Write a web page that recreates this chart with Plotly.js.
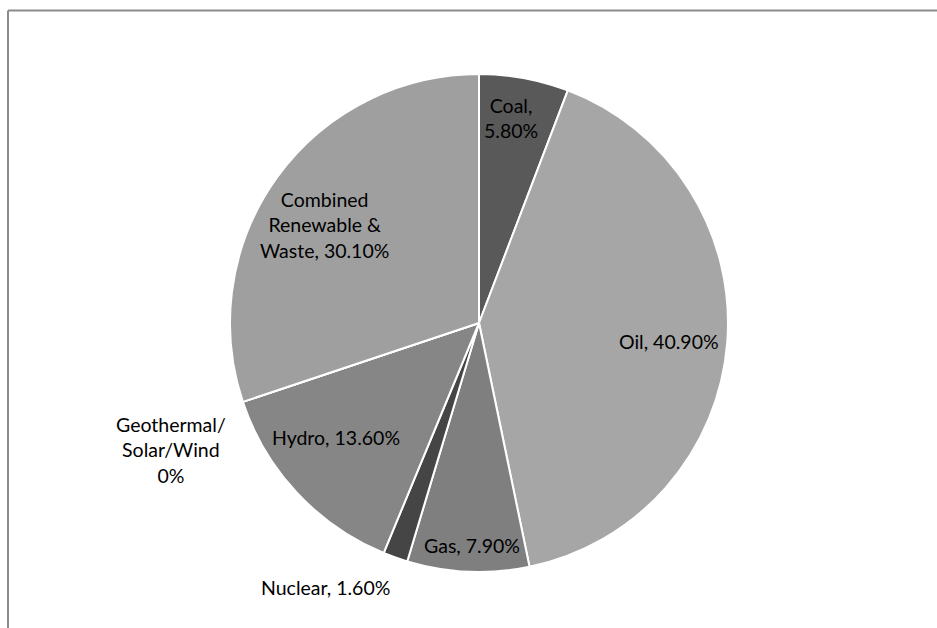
<!DOCTYPE html>
<html>
<head>
<meta charset="utf-8">
<script src="https://cdn.plot.ly/plotly-3.0.1.min.js"></script>
<style>html,body{margin:0;padding:0;background:#fff;}#chart{width:937px;height:628px;}</style>
</head>
<body>
<div id="chart"></div>
<script>
// Data
var categories = ["Coal", "Oil", "Gas", "Nuclear", "Hydro", "Geothermal/Solar/Wind", "Combined Renewable & Waste"];
var values = [5.8, 40.9, 7.9, 1.6, 13.6, 0, 30.1];
var labelTexts = ["Coal,<br>5.80%", "Oil, 40.90%", "Gas, 7.90%", "Nuclear, 1.60%", "Hydro, 13.60%", "Geothermal/<br>Solar/Wind<br>0%", "Combined<br>Renewable &<br>Waste, 30.10%"];

// Styles / positions (pixel positions of label centres)
var sliceColors = ["#595959", "#a6a6a6", "#7f7f7f", "#454545", "#868686", "#bfbfbf", "#9f9f9f"];
var labelPx = [[511, 118], [669, 341], [472, 545], [325, 587], [336, 437], [171, 450], [324, 225]];

var W = 937, H = 628;
var cx = 479, cy = 323, r = 249;

var annotations = labelTexts.map(function (t, i) {
  return {
    text: t, xref: "paper", yref: "paper",
    x: labelPx[i][0] / W, y: 1 - labelPx[i][1] / H,
    xanchor: "center", yanchor: "middle", showarrow: false, align: "center",
    font: {family: "Lato, 'Open Sans', sans-serif", size: 19.5, color: "#000"}
  };
});

var trace = {
  type: "pie",
  labels: categories,
  values: values,
  sort: false,
  direction: "clockwise",
  rotation: 0,
  textinfo: "none",
  hoverinfo: "label+percent",
  marker: {colors: sliceColors, line: {color: "#ffffff", width: 2}},
  domain: {x: [(cx - r) / W, (cx + r) / W], y: [(H - cy - r) / H, (H - cy + r) / H]},
  showlegend: false
};

var layout = {
  width: W, height: H,
  margin: {l: 0, r: 0, t: 0, b: 0},
  paper_bgcolor: "#fff",
  showlegend: false,
  annotations: annotations,
  shapes: [
    {type: "line", xref: "paper", yref: "paper", x0: 8 / W, x1: 1, y0: 1 - 10.5 / H, y1: 1 - 10.5 / H, line: {color: "#8c8c8c", width: 2}},
    {type: "line", xref: "paper", yref: "paper", x0: 8 / W, x1: 8 / W, y0: 0, y1: 1 - 10.5 / H, line: {color: "#8c8c8c", width: 2}}
  ]
};

Plotly.newPlot("chart", [trace], layout, {displayModeBar: false, staticPlot: true});
</script>
</body>
</html>
